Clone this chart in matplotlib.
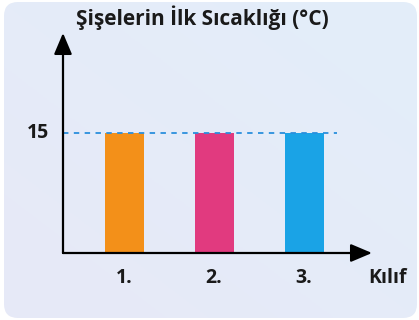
import matplotlib
matplotlib.use("Agg")
import matplotlib.pyplot as plt
import numpy as np
from matplotlib.patches import FancyBboxPatch
from matplotlib.colors import LinearSegmentedColormap

# Data
categories = ["1.", "2.", "3."]
temperatures = [15, 15, 15]
bar_colors = ["#F39019", "#E13A7F", "#1AA3E6"]
y_ticks = [15]
title_text = "Şişelerin İlk Sıcaklığı (°C)"
x_label_text = "Kılıf"

W, H = 419, 320
fig = plt.figure(figsize=(W / 100, H / 100), dpi=100)
fig.patch.set_facecolor("white")

# Rounded background panel with a soft gradient
bg = fig.add_axes([0, 0, 1, 1])
bg.set_xlim(0, W)
bg.set_ylim(0, H)
bg.axis("off")
panel = FancyBboxPatch((4, 2), 413, 316, boxstyle="round,pad=0,rounding_size=14",
                       facecolor="none", edgecolor="none")
bg.add_patch(panel)
cmap = LinearSegmentedColormap.from_list("panel", ["#E7E9F7", "#E3EEFA"])
gx, gy = np.meshgrid(np.linspace(0, 1, 200), np.linspace(0, 1, 200))
grad = (gx + gy) / 2
im = bg.imshow(grad, extent=[0, W, 0, H], origin="lower", cmap=cmap, aspect="auto", zorder=0)
im.set_clip_path(panel)

# Chart axes: origin at pixel (63, 253)
x0, y0 = 63, 253
x_end, y_top = 372, 33
ax = fig.add_axes([x0 / W, (H - y0) / H, (x_end - x0) / W, (y0 - y_top) / H])
ax.patch.set_alpha(0)
px_per_x = 90.0
px_per_y = 8.0
xmin = 1 - (124 - x0) / px_per_x
xmax = 1 + (x_end - 124) / px_per_x
ymax = (y0 - y_top) / px_per_y
ax.set_xlim(xmin, xmax)
ax.set_ylim(0, ymax)
for s in ax.spines.values():
    s.set_visible(False)
ax.set_xticks([])
ax.set_yticks([])

positions = np.arange(1, len(categories) + 1)
ax.bar(positions, temperatures, width=39 / px_per_x, color=bar_colors, zorder=2)

# Dashed reference line at the value
x_dash_end = 1 + (337 - 124) / px_per_x
ax.plot([xmin, x_dash_end], [temperatures[0], temperatures[0]], linestyle=(0, (3, 3)),
        color="#2A8FDD", linewidth=1.3, zorder=3)

# Axes with arrow heads
arrow_kw = dict(arrowstyle="-|>,head_length=1.3,head_width=0.55", color="black",
                linewidth=1.6, shrinkA=0, shrinkB=0)
ax.annotate("", xy=(xmax, 0), xytext=(xmin, 0), arrowprops=arrow_kw,
            annotation_clip=False, zorder=4)
ax.annotate("", xy=(xmin, ymax), xytext=(xmin, 0), arrowprops=arrow_kw,
            annotation_clip=False, zorder=4)

font = "Open Sans"
label_kw = dict(ha="center", va="center", fontsize=14, fontweight="bold",
                family=font, color="#1a1a1a")
for p, lab in zip(positions, categories):
    ax.text(p, -25 / px_per_y, lab, **label_kw)
for t in y_ticks:
    ax.text(xmin - 25 / px_per_x, t, str(t), **label_kw)
ax.text(1 + (387 - 124) / px_per_x, -25 / px_per_y, x_label_text, **label_kw)

fig.text(202 / W, 1 - 18 / H, title_text, ha="center", va="center", fontsize=15,
         fontweight="bold", family=font, color="#1a1a1a")

fig.savefig("out.png", dpi=100)
